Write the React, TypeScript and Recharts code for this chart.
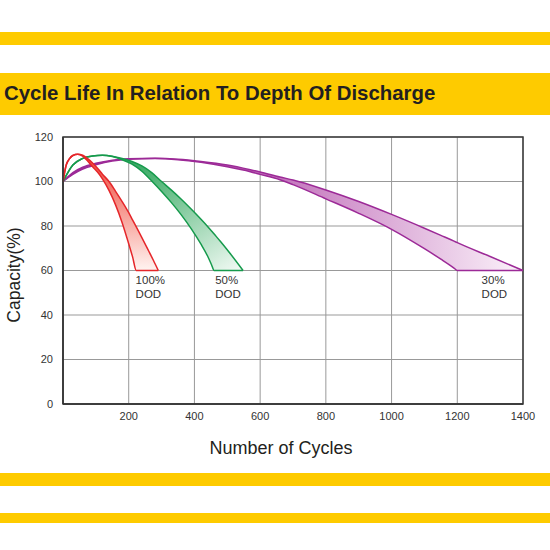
import React from 'react';
import {
  Area,
  CartesianGrid,
  ComposedChart,
  Label,
  ReferenceArea,
  ReferenceDot,
  XAxis,
  YAxis
} from 'recharts';

const title = 'Cycle Life In Relation To Depth Of Discharge';
const xTitle = 'Number of Cycles';
const yTitle = 'Capacity(%)';

const xTicks = [200, 400, 600, 800, 1000, 1200, 1400];
const yTicks = [0, 20, 40, 60, 80, 100, 120];

// 100% DOD band: inner (left) and outer (right) edge
const dod100Cycles = [0, 10, 20, 30, 45, 60, 75, 90, 105, 120, 140, 160, 180, 200, 212, 223, 240, 260, 275, 290];
const dod100Inner = [100, 107.5, 110.3, 111.7, 112.3, 111.4, 109.2, 106.6, 104.3, 101.2, 96, 89.5, 81.5, 72, 66, 60, 60, 60, 60, 60];
const dod100Outer = [100, 107.5, 110.3, 111.7, 112.3, 111.8, 110.3, 108.3, 106, 103.3, 100, 95.6, 91, 86, 82.6, 79.6, 74.8, 69, 64.6, 60];

// 50% DOD band
const dod50Cycles = [0, 30, 60, 90, 120, 150, 180, 210, 240, 270, 300, 330, 360, 390, 420, 440, 452, 460, 480, 510, 548];
const dod50Inner = [100, 107.4, 110.4, 111.5, 111.8, 111.2, 109.8, 107.8, 104.6, 100.2, 95.5, 90.5, 85, 78.8, 71.8, 66.5, 62.6, 60, 60, 60, 60];
const dod50Outer = [100, 107.4, 110.4, 111.5, 111.8, 111.4, 110.4, 109, 107, 104, 100, 96.1, 92, 87.6, 83, 79.8, 77.8, 76.4, 72.9, 67.4, 60];

// 30% DOD band
const dod30Cycles = [0, 30, 60, 100, 150, 200, 280, 350, 420, 500, 570, 600, 660, 700, 800, 900, 1000, 1100, 1150, 1190, 1200, 1300, 1400];
const dod30Inner = [100, 103.2, 105.6, 107.5, 109.2, 110, 110.3, 109.8, 108.6, 106.6, 104.4, 103.2, 100.8, 98.6, 92.2, 85.7, 78.5, 69.8, 65.1, 61.1, 60, 60, 60];
const dod30Outer = [100, 104, 106.4, 108.2, 109.6, 110.2, 110.4, 110, 109, 107.4, 105.3, 104.3, 102, 100.7, 96.2, 91, 85.2, 79, 75.8, 73.2, 72.5, 66.3, 60];

// band labels, anchored at 60% capacity
const labelTop = ['100%', '50%', '30%'];
const labelCycles = [221, 463, 1274];

const band = (cycles: number[], inner: number[], outer: number[]) =>
  cycles.map((c, i) => ({ cycles: c, range: [inner[i], outer[i]] }));

const font = '"Liberation Sans", Arial, sans-serif';
const yellow = '#fecb00';

const bandLabel = (top: string) => (props: any) => {
  const { x, y } = props.viewBox;
  return (
    <text x={x} y={y} fontFamily={font} fontSize={11.5} fill="#333">
      <tspan x={x} dy={13.5}>{top}</tspan>
      <tspan x={x} dy={13.5}>DOD</tspan>
    </text>
  );
};

export default function App() {
  return (
    <div style={{ position: 'absolute', left: 0, top: 0, width: 550, height: 550, background: '#fff' }}>
      <div style={{ position: 'absolute', left: 0, top: 32, width: 550, height: 12.5, background: yellow }} />
      <div style={{ position: 'absolute', left: 0, top: 73, width: 550, height: 42, background: yellow }} />
      <div
        style={{
          position: 'absolute',
          left: 4,
          top: 83,
          fontFamily: font,
          fontWeight: 'bold',
          fontSize: 20.4,
          lineHeight: '20px',
          color: '#231f20',
          whiteSpace: 'nowrap'
        }}
      >
        {title}
      </div>
      <div style={{ position: 'absolute', left: 0, top: 473, width: 550, height: 12.5, background: yellow }} />
      <div style={{ position: 'absolute', left: 0, top: 513, width: 550, height: 10, background: yellow }} />

      <div style={{ position: 'absolute', left: 0, top: 0 }}>
        <ComposedChart width={550} height={550} margin={{ top: 137, right: 27, bottom: 116, left: 0 }}>
          <defs>
            <linearGradient id="redFill" x1="0" y1="0" x2="0" y2="1">
              <stop offset="0" stopColor="#ee4436" />
              <stop offset="1" stopColor="#fff4f1" />
            </linearGradient>
            <linearGradient id="greenFill" x1="0" y1="0" x2="1" y2="1">
              <stop offset="0" stopColor="#16974a" />
              <stop offset="0.35" stopColor="#4fb475" />
              <stop offset="1" stopColor="#f4fbf6" />
            </linearGradient>
            <linearGradient id="purpleFill" x1="0" y1="0" x2="1" y2="0">
              <stop offset="0" stopColor="#9a2a94" />
              <stop offset="0.45" stopColor="#c170ba" />
              <stop offset="1" stopColor="#fbf2fa" />
            </linearGradient>
          </defs>
          <CartesianGrid stroke="#999" strokeWidth={1} />
          <XAxis
            type="number"
            dataKey="cycles"
            domain={[0, 1400]}
            ticks={xTicks}
            allowDataOverflow
            height={30}
            tickLine={false}
            tickSize={6}
            tickMargin={2}
            axisLine={{ stroke: '#333', strokeWidth: 1.5 }}
            tick={{ fill: '#333', fontSize: 11, fontFamily: font }}
          >
            <Label
              content={() => (
                <text x={281} y={454} textAnchor="middle" fontFamily={font} fontSize={18} fill="#231f20">
                  {xTitle}
                </text>
              )}
            />
          </XAxis>
          <YAxis
            type="number"
            domain={[0, 120]}
            ticks={yTicks}
            width={63}
            tickLine={false}
            tickSize={6}
            tickMargin={4}
            axisLine={{ stroke: '#333', strokeWidth: 1.5 }}
            tick={{ fill: '#333', fontSize: 11, fontFamily: font }}
          >
            <Label
              content={() => (
                <text
                  transform="translate(20,275) rotate(-90)"
                  textAnchor="middle"
                  fontFamily={font}
                  fontSize={17.5}
                  fill="#231f20"
                >
                  {yTitle}
                </text>
              )}
            />
          </YAxis>
          <ReferenceArea x1={0} x2={1400} y1={0} y2={120} fill="none" stroke="#3a3a3a" strokeWidth={1.5} ifOverflow="visible" />
          <Area
            data={band(dod30Cycles, dod30Inner, dod30Outer)}
            dataKey="range"
            type="monotone"
            stroke="#9c2a97"
            strokeWidth={1.5}
            fill="url(#purpleFill)"
            fillOpacity={1}
            dot={false}
            activeDot={false}
            isAnimationActive={false}
          />
          <Area
            data={band(dod50Cycles, dod50Inner, dod50Outer)}
            dataKey="range"
            type="monotone"
            stroke="#169a4c"
            strokeWidth={1.5}
            fill="url(#greenFill)"
            fillOpacity={1}
            dot={false}
            activeDot={false}
            isAnimationActive={false}
          />
          <Area
            data={band(dod100Cycles, dod100Inner, dod100Outer)}
            dataKey="range"
            type="monotone"
            stroke="#e5262a"
            strokeWidth={1.5}
            fill="url(#redFill)"
            fillOpacity={1}
            dot={false}
            activeDot={false}
            isAnimationActive={false}
          />
          {labelTop.map((t, i) => (
            <ReferenceDot
              key={t}
              x={labelCycles[i]}
              y={60}
              r={0}
              fill="none"
              stroke="none"
              ifOverflow="visible"
              label={bandLabel(t)}
            />
          ))}
        </ComposedChart>
      </div>
    </div>
  );
}
